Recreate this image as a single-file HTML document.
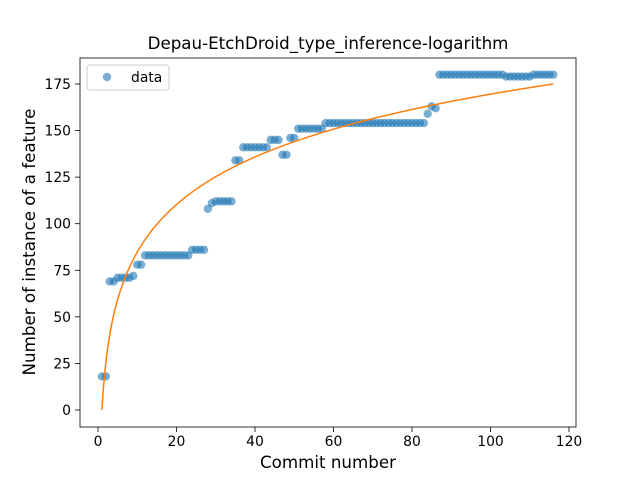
<!DOCTYPE html>
<html><head><meta charset="utf-8"><style>body{margin:0;background:#fff}svg{font-family:"DejaVu Sans","Liberation Sans",sans-serif}</style></head>
<body>
<svg id="chart" width="640" height="480"></svg>
<script>
const runs=[[2,18],[2,69],[4,71],[1,72],[2,78],[12,83],[4,86],[1,108],[1,111],[5,112],[2,134],[7,141],[3,145],[2,137],[2,146],[7,151],[26,154],[1,159],[1,163],[1,162],[17,180],[7,179],[6,180]];
const yValues=[];runs.forEach(r=>{for(let i=0;i<r[0];i++)yValues.push(r[1]);});
const xValues=yValues.map((v,i)=>i+1);
const xTicks=[0,20,40,60,80,100,120];
const yTicks=[0,25,50,75,100,125,150,175];
const NS="http://www.w3.org/2000/svg",svg=document.getElementById('chart');
const L=80,R=576,T=58,B=427;
const X=v=>98+v*3.925, Y=v=>410-v*1.863;
function el(t,a,p){const e=document.createElementNS(NS,t);for(const k in a)e.setAttribute(k,a[k]);(p||svg).appendChild(e);return e;}
const ax=el('rect',{x:L,y:T,width:R-L,height:B-T,fill:'none',stroke:'#000','stroke-width':0.8});


xTicks.forEach(t=>{el('line',{x1:X(t),x2:X(t),y1:B,y2:B+5,stroke:'#000','stroke-width':0.8});
const tx=el('text',{x:X(t),y:B+19,'text-anchor':'middle','font-size':13.9});tx.textContent=t;

});
yTicks.forEach(t=>{el('line',{x1:L-5,x2:L,y1:Y(t),y2:Y(t),stroke:'#000','stroke-width':0.8});
const tx=el('text',{x:L-9,y:Y(t)+5,'text-anchor':'end','font-size':13.9});tx.textContent=t;

});
const g=el('g',{});


xValues.forEach((x,i)=>{const c=el('circle',{cx:X(x),cy:Y(yValues[i]),r:4.2,fill:'#1f77b4','fill-opacity':0.6},g);

});
const n=xValues.length,b=175/Math.log(n);let d='';
for(let x=1;x<=n;x+=0.25){d+=(x==1?'M':'L')+X(x).toFixed(2)+','+Y(b*Math.log(x)).toFixed(2);}
const fit=el('path',{d:d,fill:'none',stroke:'#ff7f0e','stroke-width':1.5});


</script>
<svg style="position:absolute;left:0;top:0" width="640" height="480">
<text x="328" y="49" text-anchor="middle" font-size="16.7" font-family="DejaVu Sans,sans-serif">Depau-EtchDroid_type_inference-logarithm</text>
<text x="328" y="468" text-anchor="middle" font-size="16.7" font-family="DejaVu Sans,sans-serif">Commit number</text>
<text transform="translate(35,242) rotate(-90)" text-anchor="middle" font-size="16.7" font-family="DejaVu Sans,sans-serif">Number of instance of a feature</text>
<g>
<rect x="87" y="65" width="82" height="25" rx="3" fill="#fff" fill-opacity="0.8" stroke="#ccc"/>
<circle cx="107" cy="77" r="4.2" fill="#1f77b4" fill-opacity="0.6"/>
<text x="131" y="82" font-size="13.9" font-family="DejaVu Sans,sans-serif">data</text>
</g>
</svg>
</body></html>
